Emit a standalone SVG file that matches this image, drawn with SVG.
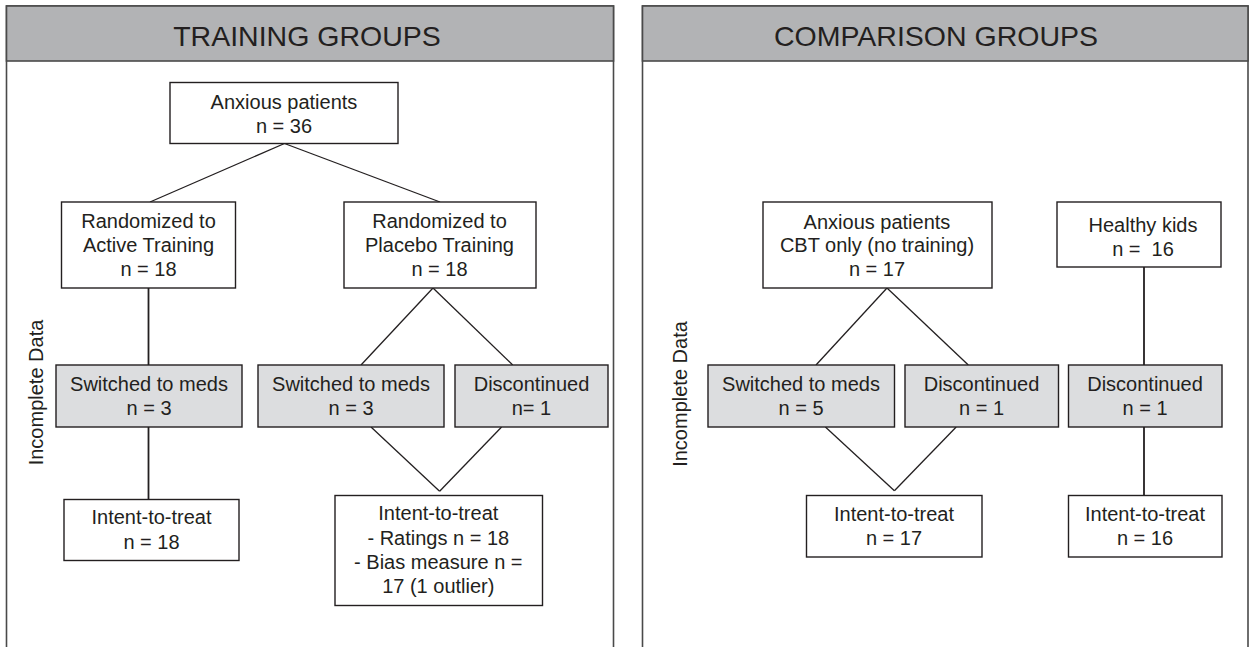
<svg xmlns="http://www.w3.org/2000/svg" width="1256" height="647" viewBox="0 0 1256 647">
<style>
.panel{fill:#ffffff;stroke:#4a4a4a;stroke-width:1.6}
.hdr{fill:#b2b3b5;stroke:#4a4a4a;stroke-width:1.6}
.htxt{font-family:"Liberation Sans",Arial,sans-serif;font-size:28.5px;fill:#231f20;text-anchor:middle}
.box{fill:#ffffff;stroke:#231f20;stroke-width:1.4}
.gbox{fill:#dcdddf;stroke:#231f20;stroke-width:1.4}
.t{font-family:"Liberation Sans",Arial,sans-serif;font-size:20px;fill:#231f20;text-anchor:middle}
.side{font-family:"Liberation Sans",Arial,sans-serif;font-size:20px;fill:#231f20;text-anchor:middle}
.ln{stroke:#231f20;stroke-width:1.3;fill:none}
.vl{stroke:#231f20;stroke-width:1.8;fill:none}
</style>
<rect width="1256" height="647" fill="#ffffff"/>
<g id="panel-training">
<rect class="panel" x="6.5" y="6" width="607" height="660"/>
<rect class="hdr" x="6.5" y="6" width="607" height="55"/>
<text class="htxt" x="307" y="45.7">TRAINING GROUPS</text>
<text class="side" transform="translate(42.5,392.5) rotate(-90)">Incomplete Data</text>
</g>
<g id="panel-comparison">
<rect class="panel" x="642.5" y="6" width="605.5" height="660"/>
<rect class="hdr" x="642.5" y="6" width="605.5" height="55"/>
<text class="htxt" x="936" y="45.7">COMPARISON GROUPS</text>
<text class="side" transform="translate(687,394) rotate(-90)">Incomplete Data</text>
</g>
<g id="connectors">
<line class="ln" x1="284.5" y1="143.5" x2="150" y2="202"/>
<line class="ln" x1="284.5" y1="143.5" x2="440" y2="202"/>
<line class="vl" x1="148.5" y1="288" x2="148.5" y2="365"/>
<line class="vl" x1="148.5" y1="427" x2="148.5" y2="499.5"/>
<line class="ln" x1="433" y1="288" x2="361" y2="365"/>
<line class="ln" x1="433" y1="288" x2="512.7" y2="365"/>
<line class="ln" x1="371" y1="427" x2="439.6" y2="491.3"/>
<line class="ln" x1="501.6" y1="427" x2="439.6" y2="491.3"/>
<line class="ln" x1="887" y1="288" x2="816" y2="365"/>
<line class="ln" x1="887" y1="288" x2="968.3" y2="365"/>
<line class="vl" x1="1144" y1="267" x2="1144" y2="365"/>
<line class="vl" x1="1144" y1="427" x2="1144" y2="495.5"/>
<line class="ln" x1="825.4" y1="427" x2="894.4" y2="490.7"/>
<line class="ln" x1="956.2" y1="427" x2="894.4" y2="490.7"/>
</g>
<g id="n-anxious">
<rect class="box" x="170" y="82.5" width="228" height="61"/>
<text class="t" x="284" y="108.5">Anxious patients</text>
<text class="t" x="284" y="132.5">n = 36</text>
</g>
<g id="n-active">
<rect class="box" x="61.5" y="202" width="174" height="86"/>
<text class="t" x="148.5" y="227.5">Randomized to</text>
<text class="t" x="148.5" y="251.5">Active Training</text>
<text class="t" x="148.5" y="275.5">n = 18</text>
</g>
<g id="n-placebo">
<rect class="box" x="344" y="202" width="192" height="86"/>
<text class="t" x="439.5" y="227.5">Randomized to</text>
<text class="t" x="439.5" y="251.5">Placebo Training</text>
<text class="t" x="439.5" y="275.5">n = 18</text>
</g>
<g id="n-switched-active">
<rect class="gbox" x="56" y="365" width="186" height="62"/>
<text class="t" x="149" y="390.5">Switched to meds</text>
<text class="t" x="149" y="415">n = 3</text>
</g>
<g id="n-switched-placebo">
<rect class="gbox" x="258" y="365" width="186" height="62"/>
<text class="t" x="351" y="390.5">Switched to meds</text>
<text class="t" x="351" y="415">n = 3</text>
</g>
<g id="n-discontinued-placebo">
<rect class="gbox" x="455" y="365" width="153" height="62"/>
<text class="t" x="531.5" y="390.5">Discontinued</text>
<text class="t" x="531.5" y="415">n= 1</text>
</g>
<g id="n-itt-active">
<rect class="box" x="64" y="499.5" width="175" height="61"/>
<text class="t" x="151.5" y="524">Intent-to-treat</text>
<text class="t" x="151.5" y="548.5">n = 18</text>
</g>
<g id="n-itt-placebo">
<rect class="box" x="335" y="495.5" width="207.5" height="110"/>
<text class="t" x="438.3" y="520">Intent-to-treat</text>
<text class="t" x="438.3" y="544.5">- Ratings n = 18</text>
<text class="t" x="438.3" y="568.5">- Bias measure n =</text>
<text class="t" x="438.3" y="592.5">17 (1 outlier)</text>
</g>
<g id="n-cbt">
<rect class="box" x="763" y="202" width="229" height="86"/>
<text class="t" x="877" y="228.5">Anxious patients</text>
<text class="t" x="877" y="252">CBT only (no training)</text>
<text class="t" x="877" y="276">n = 17</text>
</g>
<g id="n-healthy">
<rect class="box" x="1057" y="202" width="164" height="65"/>
<text class="t" x="1143" y="231.5">Healthy kids</text>
<text class="t" x="1143" y="255.5" xml:space="preserve">n =  16</text>
</g>
<g id="n-switched-cbt">
<rect class="gbox" x="708" y="365" width="186.5" height="62"/>
<text class="t" x="801" y="390.5">Switched to meds</text>
<text class="t" x="801" y="414.5">n = 5</text>
</g>
<g id="n-discontinued-cbt">
<rect class="gbox" x="905" y="365" width="153.5" height="62"/>
<text class="t" x="981.5" y="390.5">Discontinued</text>
<text class="t" x="981.5" y="414.5">n = 1</text>
</g>
<g id="n-discontinued-healthy">
<rect class="gbox" x="1068.5" y="365" width="153.5" height="62"/>
<text class="t" x="1145" y="390.5">Discontinued</text>
<text class="t" x="1145" y="414.5">n = 1</text>
</g>
<g id="n-itt-cbt">
<rect class="box" x="806.5" y="495.5" width="175.5" height="61.5"/>
<text class="t" x="894" y="521">Intent-to-treat</text>
<text class="t" x="894" y="544.5">n = 17</text>
</g>
<g id="n-itt-healthy">
<rect class="box" x="1068.5" y="495.5" width="153.5" height="61.5"/>
<text class="t" x="1145" y="521">Intent-to-treat</text>
<text class="t" x="1145" y="544.5">n = 16</text>
</g>
</svg>
